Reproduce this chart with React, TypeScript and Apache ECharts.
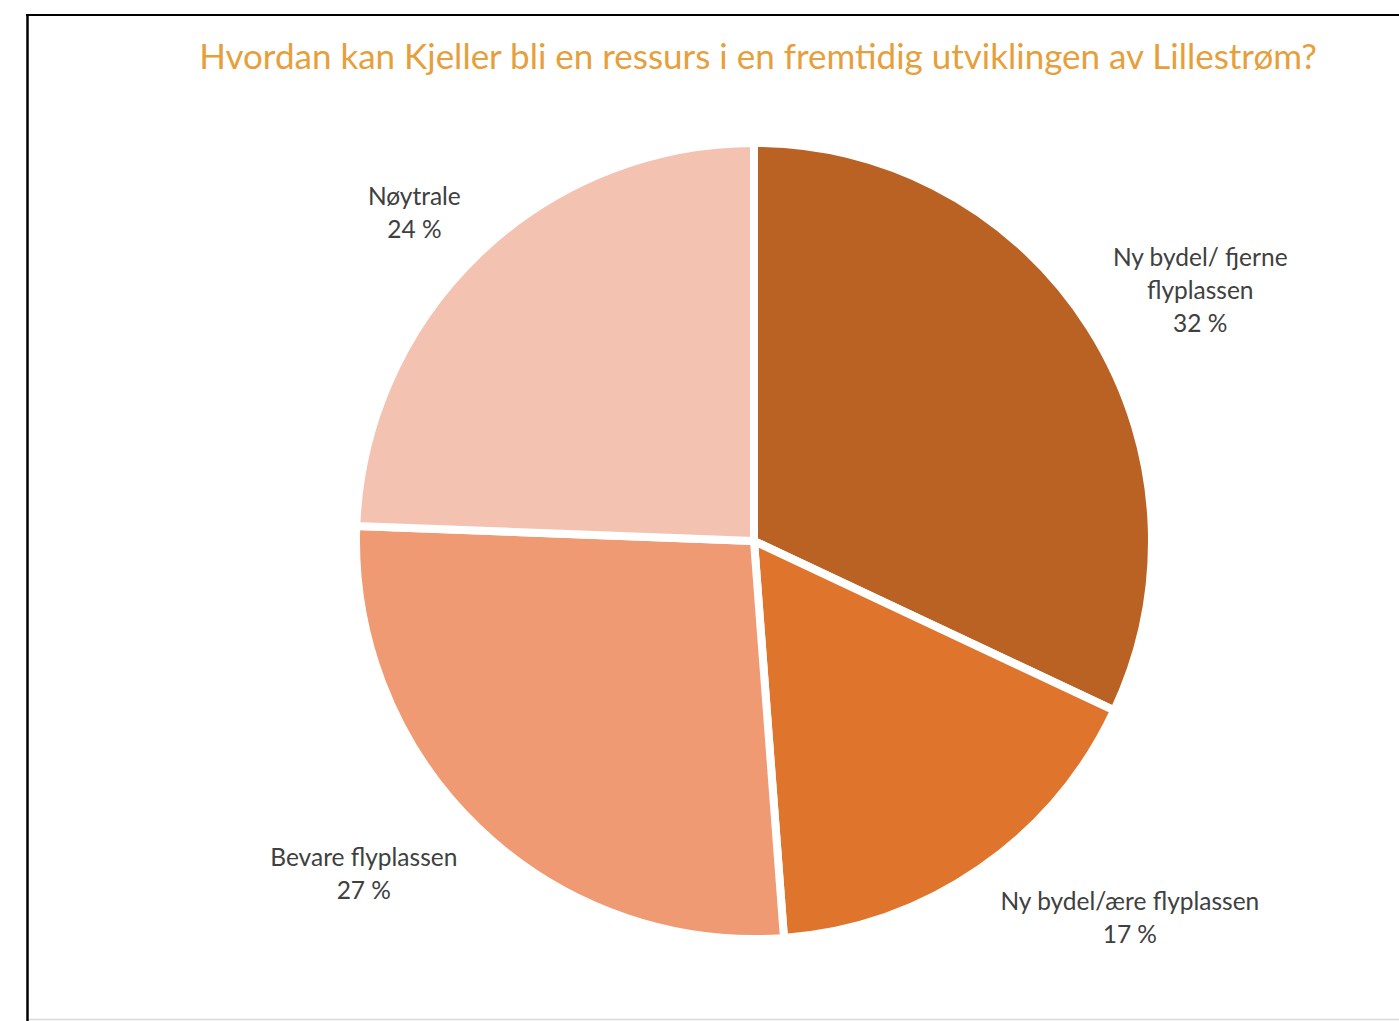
import React, { useEffect, useRef } from "react";
import * as echarts from "echarts";

const TITLE = "Hvordan kan Kjeller bli en ressurs i en fremtidig utviklingen av Lillestrøm?";
const categories = [
  "Ny bydel/ fjerne\nflyplassen",
  "Ny bydel/ære flyplassen",
  "Bevare flyplassen",
  "Nøytrale",
];
const values = [32.0, 16.8, 26.8, 24.4];
const colors = ["#BA6224", "#DF742D", "#EF9A72", "#F4C2B1"];

// label placement (polar, relative to pie centre): angle tweak in degrees, distance factor of radius
const labelAngleTweak = [-3, 10.4, -5.7, 2];
const labelDistFactor = [1.3, 1.35, 1.3, 1.2];

const CX = 754;
const CY = 541;
const R = 398;

export default function App() {
  const ref = useRef<HTMLDivElement>(null);
  useEffect(() => {
    if (!ref.current) return;
    const chart = echarts.init(ref.current, undefined, { renderer: "svg" });
    const total = values.reduce((a, b) => a + b, 0);
    const mids: number[] = [];
    let acc = 0;
    for (const v of values) {
      const span = (v / total) * 360;
      mids.push(90 - acc - span / 2);
      acc += span;
    }
    chart.setOption({
      animation: false,
      backgroundColor: "#ffffff",
      graphic: [
        {
          type: "line",
          shape: { x1: 26, y1: 15, x2: 1399, y2: 15 },
          style: { stroke: "#000000", lineWidth: 2 },
        },
        {
          type: "line",
          shape: { x1: 27.5, y1: 14, x2: 27.5, y2: 1021 },
          style: { stroke: "#000000", lineWidth: 2.5 },
        },
        {
          type: "line",
          shape: { x1: 29, y1: 1019.5, x2: 1399, y2: 1019.5 },
          style: { stroke: "#d9d9d9", lineWidth: 1.5 },
        },
        {
          type: "text",
          x: 758,
          y: 55,
          style: {
            text: TITLE,
            fill: "#E69F3B",
            font: "35px Lato",
            textAlign: "center",
            textVerticalAlign: "middle",
          },
        },
      ],
      series: [
        {
          type: "pie",
          center: [CX, CY],
          radius: R,
          startAngle: 90,
          clockwise: true,
          avoidLabelOverlap: false,
          data: categories.map((name, i) => ({
            name,
            value: values[i],
            itemStyle: { color: colors[i] },
          })),
          itemStyle: { borderColor: "#ffffff", borderWidth: 8 },
          label: {
            show: true,
            position: "outside",
            formatter: (p: any) => `${p.name}\n${Math.round(p.percent)} %`,
            color: "#404040",
            fontFamily: "Lato",
            fontSize: 24.5,
            lineHeight: 33,
            align: "center",
          },
          labelLine: { show: false },
          labelLayout: (p: any) => {
            const i = p.dataIndex;
            const a = ((mids[i] + labelAngleTweak[i]) * Math.PI) / 180;
            const d = (R - 4) * labelDistFactor[i];
            return {
              x: CX + d * Math.cos(a),
              y: CY - d * Math.sin(a),
              align: "center",
              verticalAlign: "middle",
            };
          },
        },
      ],
    });
    return () => chart.dispose();
  }, []);
  return (
    <div
      ref={ref}
      style={{ position: "fixed", left: 0, top: 0, width: 1399, height: 1021 }}
    />
  );
}
